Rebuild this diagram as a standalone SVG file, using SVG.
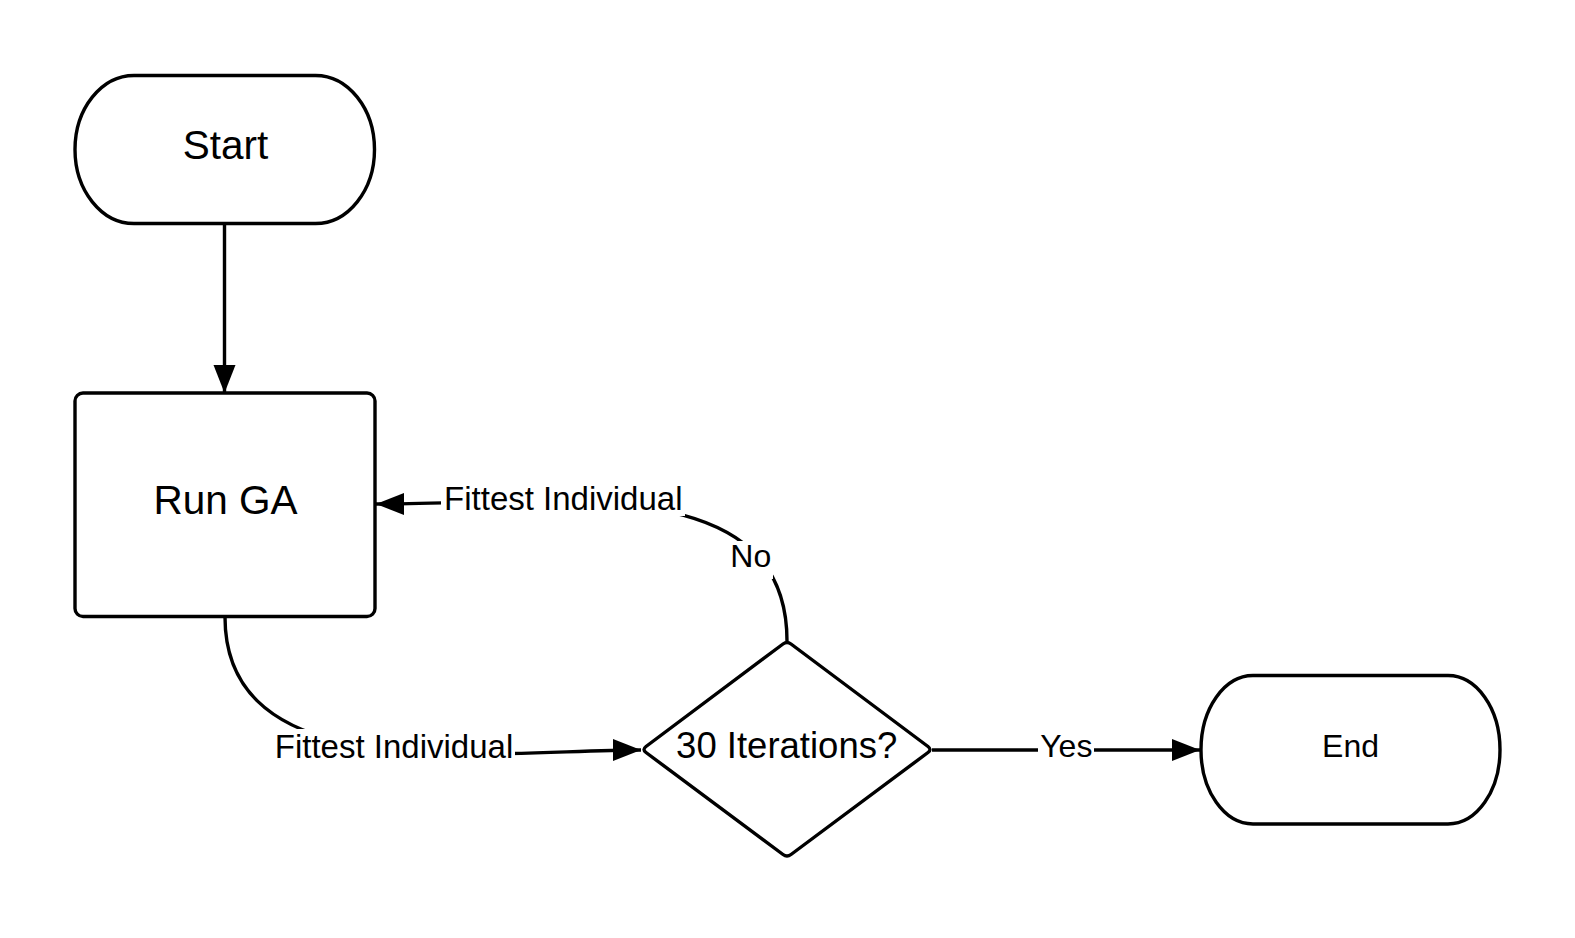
<svg xmlns="http://www.w3.org/2000/svg" width="1575" height="938" viewBox="0 0 1575 938">
  <style>
    .shape { fill: #ffffff; stroke: #000000; stroke-width: 3.4; stroke-linejoin: round; }
    .conn { fill: none; stroke: #000000; stroke-width: 3.4; }
    .t { font-family: "Liberation Sans", Arial, Helvetica, sans-serif; fill: #000000; text-anchor: middle; }
    .big { font-size: 40.5px; }
    .mid { font-size: 36.5px; }
    .lbl { font-size: 33px; }
    .sml { font-size: 32px; }
    .bg { fill: #ffffff; stroke: none; }
  </style>
  <defs>
    <marker id="arrow" markerUnits="userSpaceOnUse" markerWidth="30" markerHeight="24" refX="28" refY="11" orient="auto">
      <path d="M0,0 L28,11 L0,22 Z" fill="#000000"/>
    </marker>
  </defs>
  <rect width="1575" height="938" fill="#ffffff"/>

  <g id="connectors">
    <path class="conn" d="M224.5,223.5 L224.5,393" marker-end="url(#arrow)"/>
    <path class="conn" d="M225,617 C225,790 490,750 641,750" marker-end="url(#arrow)"/>
    <path class="conn" d="M787,641 C787,470 560,504 376,504" marker-end="url(#arrow)"/>
    <path class="conn" d="M932,750 L1200,750" marker-end="url(#arrow)"/>
    <g id="labels">
      <rect class="bg" x="441" y="482" width="244" height="34"/>
      <text class="t lbl" x="563.3" y="510">Fittest Individual</text>
      <rect class="bg" x="729" y="541" width="44" height="38"/>
      <text class="t sml" x="750.8" y="566.7">No</text>
      <rect class="bg" x="272" y="729" width="243" height="36"/>
      <text class="t lbl" x="394" y="757.7">Fittest Individual</text>
      <rect class="bg" x="1038" y="730" width="56" height="34"/>
      <text class="t sml" x="1066.3" y="757.3">Yes</text>
    </g>
  </g>

  <g id="start">
    <rect class="shape" x="75" y="75.5" width="299.5" height="148" rx="59" ry="74"/>
    <text class="t big" x="225.5" y="159">Start</text>
  </g>

  <g id="run-ga">
    <rect class="shape" x="75" y="393" width="300" height="223.5" rx="8" ry="8"/>
    <text class="t big" x="225.5" y="514">Run GA</text>
  </g>

  <g id="decision">
    <path class="shape" d="M783,644 Q787,641 791,644 L928,746.5 Q932,749.5 928,752.5 L791,854.5 Q787,857.5 783,854.5 L646,752.5 Q642,749.5 646,746.5 Z"/>
    <text class="t mid" x="786.7" y="757.7">30 Iterations?</text>
  </g>

  <g id="end">
    <rect class="shape" x="1201" y="675.5" width="299" height="148.5" rx="52" ry="74"/>
    <text class="t sml" x="1350.5" y="757.3">End</text>
  </g>
</svg>
